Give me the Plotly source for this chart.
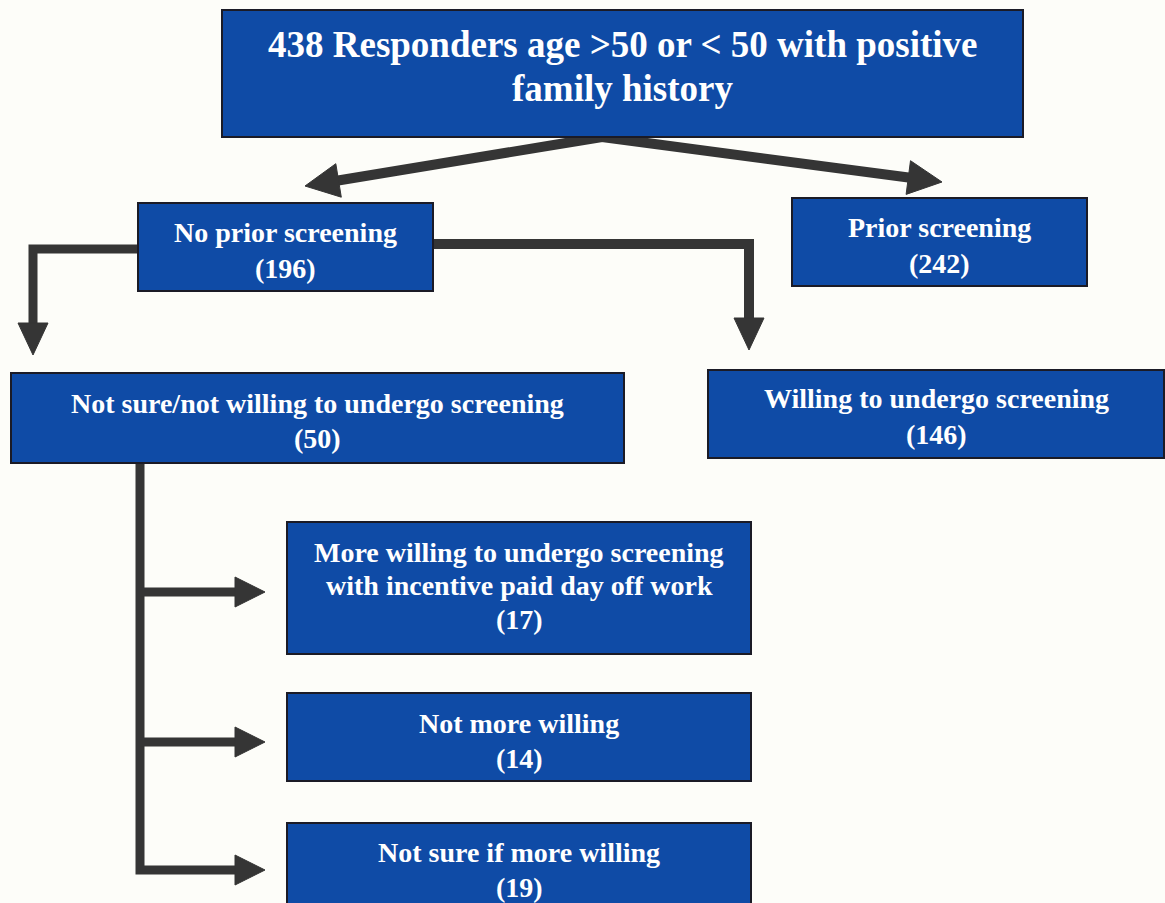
import math
import plotly.graph_objects as go

# ---------------- data ----------------
node_labels = [
    "Responders age &gt;50 or &lt; 50 with positive<br>family history",
    "No prior screening",
    "Prior screening",
    "Not sure/not willing to undergo screening",
    "Willing to undergo screening",
    "More willing to undergo screening<br>with incentive paid day off work",
    "Not more willing",
    "Not sure if more willing",
]
node_counts = [438, 196, 242, 50, 146, 17, 14, 19]

# ---------------- layout (pixel space) ----------------
W, H = 1165, 903
BLUE = "#0f4ba6"
EDGE = "#1b1b26"
ARROW = "#353535"
FONT = "Liberation Serif"

# x0, y0, x1, y1, first text line centre y, line spacing, font size
boxes = [
    (222, 10, 1023, 137, 44, 44, 37),
    (138, 203, 433, 291, 232, 36, 28),
    (792, 198, 1087, 286, 227, 36, 28),
    (11, 373, 624, 463, 403, 35, 28),
    (708, 370, 1164, 458, 398, 36, 28),
    (287, 522, 751, 654, 552, 33.5, 28),
    (287, 693, 751, 781, 723, 35, 28),
    (287, 823, 751, 930, 852, 35, 28),
]

# arrows: polyline points, last point is the tip; line width, head length, head width
arrows = [
    ([(602, 137), (305, 186)], 10, 34, 34),
    ([(602, 137), (942, 182)], 10, 34, 34),
    ([(138, 249), (33, 249), (33, 355)], 9, 32, 30),
    ([(433, 244), (749, 244), (749, 350)], 10, 32, 30),
    ([(140, 463), (140, 870), (265, 870)], 9, 30, 30),
    ([(140, 592), (265, 592)], 9, 30, 30),
    ([(140, 742), (265, 742)], 9, 30, 30),
]

shapes = []
annotations = []

for (pts, lw, hl, hw) in arrows:
    (px, py), (tx, ty) = pts[-2], pts[-1]
    d = math.hypot(tx - px, ty - py)
    ux, uy = (tx - px) / d, (ty - py) / d
    bx, by = tx - ux * hl, ty - uy * hl
    line_pts = pts[:-1] + [(bx + ux * 2, by + uy * 2)]
    path = "M " + " L ".join(f"{x:.1f},{y:.1f}" for x, y in line_pts)
    shapes.append(dict(type="path", path=path, xref="x", yref="y",
                       line=dict(color=ARROW, width=lw), layer="below"))
    nx, ny = -uy, ux
    tri = (f"M {tx:.1f},{ty:.1f} L {bx + nx * hw / 2:.1f},{by + ny * hw / 2:.1f} "
           f"L {bx - nx * hw / 2:.1f},{by - ny * hw / 2:.1f} Z")
    shapes.append(dict(type="path", path=tri, xref="x", yref="y",
                       fillcolor=ARROW, line=dict(color=ARROW, width=1), layer="below"))

for i, (x0, y0, x1, y1, ty, sp, fs) in enumerate(boxes):
    shapes.append(dict(type="rect", x0=x0, y0=y0, x1=x1, y1=y1, xref="x", yref="y",
                       fillcolor=BLUE, line=dict(color=EDGE, width=2), layer="above"))
    if i == 0:
        txt = f"{node_counts[i]} {node_labels[i]}"
    else:
        txt = f"{node_labels[i]}<br>({node_counts[i]})"
    for k, line in enumerate(txt.split("<br>")):
        annotations.append(dict(x=(x0 + x1) / 2, y=ty + k * sp, xref="x", yref="y",
                                text=f"<b>{line}</b>",
                                showarrow=False, xanchor="center", yanchor="middle",
                                font=dict(family=FONT, size=fs, color="white")))

fig = go.Figure()
fig.update_layout(
    width=W, height=H,
    margin=dict(l=0, r=0, t=0, b=0),
    paper_bgcolor="#fdfdf9", plot_bgcolor="#fdfdf9",
    xaxis=dict(range=[0, W], visible=False, fixedrange=True),
    yaxis=dict(range=[H, 0], visible=False, fixedrange=True),
    shapes=shapes, annotations=annotations, showlegend=False,
)
fig.write_html("out.html", config={"displayModeBar": False},
               post_script="document.body.style.margin='0';document.body.style.overflow='hidden';")
